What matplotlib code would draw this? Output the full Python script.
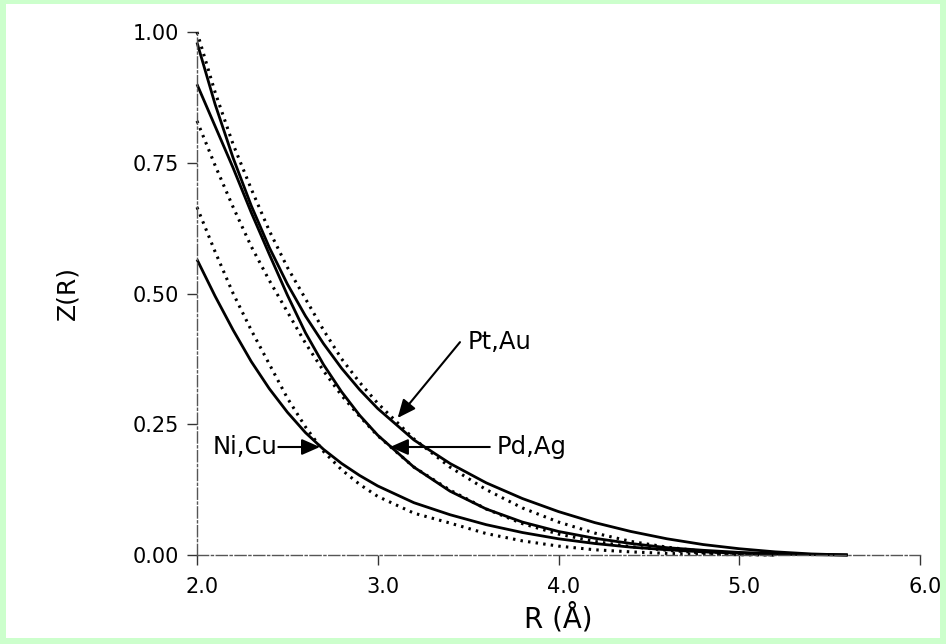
"""
Z(R) の比較プロット
実線と点線の 3 組 (Pt,Au / Pd,Ag / Ni,Cu)
"""
import matplotlib.pyplot as plt
from matplotlib.patches import Rectangle
from matplotlib.transforms import ScaledTranslation
from matplotlib import rcParams

rcParams['font.family'] = ['DejaVu Sans']

# 実線の R グリッド
r_solid = [2.0, 2.1, 2.2, 2.3, 2.4, 2.5, 2.6, 2.7, 2.8, 2.9, 3.0, 3.2, 3.4,
           3.6, 3.8, 4.0, 4.2, 4.4, 4.6, 4.8, 5.0, 5.2, 5.4, 5.6]
# 点線の R グリッド
r_dot = [2.0, 2.1, 2.2, 2.3, 2.4, 2.5, 2.6, 2.7, 2.8, 2.9, 3.0, 3.2, 3.4,
         3.6, 3.8, 4.0, 4.2, 4.4, 4.6, 4.8, 5.0, 5.2]

ptau_solid = [0.98, 0.862, 0.759, 0.668, 0.588, 0.518, 0.457, 0.404, 0.357,
              0.316, 0.28, 0.22, 0.175, 0.138, 0.108, 0.083, 0.062, 0.045,
              0.031, 0.020, 0.012, 0.006, 0.002, 0.0]
pdag_solid = [0.90, 0.82, 0.74, 0.655, 0.575, 0.497, 0.425, 0.364, 0.312,
              0.267, 0.229, 0.168, 0.122, 0.088, 0.063, 0.045, 0.032, 0.022,
              0.014, 0.009, 0.005, 0.0025, 0.001, 0.0]
nicu_solid = [0.565, 0.495, 0.43, 0.37, 0.318, 0.273, 0.234, 0.202, 0.175,
              0.152, 0.132, 0.10, 0.077, 0.058, 0.043, 0.031, 0.022, 0.015,
              0.010, 0.006, 0.0035, 0.0018, 0.0006, 0.0]

ptau_dot = [1.0, 0.885, 0.785, 0.70, 0.62, 0.55, 0.49, 0.43, 0.375, 0.33,
            0.29, 0.222, 0.168, 0.125, 0.090, 0.063, 0.042, 0.026, 0.015,
            0.007, 0.003, 0.0]
pdag_dot = [0.83, 0.745, 0.665, 0.59, 0.525, 0.465, 0.405, 0.352, 0.305,
            0.265, 0.228, 0.168, 0.124, 0.088, 0.060, 0.040, 0.026, 0.016,
            0.009, 0.004, 0.0015, 0.0]
nicu_dot = [0.665, 0.58, 0.50, 0.43, 0.365, 0.30, 0.245, 0.198, 0.163, 0.135,
            0.112, 0.080, 0.061, 0.041, 0.027, 0.017, 0.010, 0.006, 0.003,
            0.0015, 0.0005, 0.0]

x_ticks = [2.0, 3.0, 4.0, 5.0, 6.0]
x_ticklabels = ['2.0', '3.0', '4.0', '5.0', '6.0']
y_ticks = [0.0, 0.25, 0.5, 0.75, 1.0]
y_ticklabels = ['0.00', '0.25', '0.50', '0.75', '1.00']

# 注記: (ラベル, 矢印先端, 矢印の根元, 文字の揃え)
notes = [
    ('Pt,Au', (3.11, 0.262), (3.455, 0.407), 'left'),
    ('Pd,Ag', (3.068, 0.2065), (3.62, 0.2065), 'left'),
    ('Ni,Cu', (2.68, 0.2065), (2.45, 0.2065), 'right'),
]

fig = plt.figure(figsize=(9.46, 6.44), dpi=100, facecolor='#ccffcc')
# 緑の枠の内側を白で塗る
fig.patches.append(Rectangle((6 / 946, 6 / 644), 934 / 946, 634 / 644,
                             transform=fig.transFigure, facecolor='white',
                             edgecolor='none', zorder=-10))
ax = fig.add_axes([197 / 946, 1 - 555 / 644, 723 / 946, 523 / 644])
ax.set_facecolor('none')

dot_style = (0, (0.8, 1.7))
for ys in (ptau_solid, pdag_solid, nicu_solid):
    ax.plot(r_solid, ys, color='black', linewidth=2.0, clip_on=False,
            solid_capstyle='butt', solid_joinstyle='round')
for ys in (ptau_dot, pdag_dot, nicu_dot):
    ax.plot(r_dot, ys, color='black', linewidth=2.2, linestyle=dot_style,
            clip_on=False)

for label, tip, pos, ha in notes:
    ax.annotate('', xy=tip, xytext=pos,
                arrowprops=dict(arrowstyle='-|>,head_length=0.5,head_width=0.22',
                                color='black', lw=1.5,
                                mutation_scale=22, shrinkA=0, shrinkB=0))
    ax.text(pos[0] + (0.04 if ha == 'left' else -0.005), pos[1], label,
            ha=ha, va='center', fontsize=17.5)

ax.set_xlim(2.0, 6.0)
ax.set_ylim(0.0, 1.0)
ax.set_xticks(x_ticks)
ax.set_xticklabels(x_ticklabels, fontsize=15)
ax.set_yticks(y_ticks)
ax.set_yticklabels(y_ticklabels, fontsize=15)
ax.tick_params(axis='both', direction='out', length=7, width=1.0,
               color='#333333')
ax.tick_params(axis='x', pad=9)
ax.tick_params(axis='y', pad=6)

# x 目盛りの数字を少し右へ
shift = ScaledTranslation(5 / 100, 0, fig.dpi_scale_trans)
for lbl in ax.get_xticklabels():
    lbl.set_transform(lbl.get_transform() + shift)

for side in ('top', 'right'):
    ax.spines[side].set_visible(False)
for side in ('left', 'bottom'):
    ax.spines[side].set_linestyle((0, (8, 2, 1.5, 2)))
    ax.spines[side].set_linewidth(1.0)
    ax.spines[side].set_color('#555555')

ax.set_xlabel('R (Å)', fontsize=20, labelpad=4)
ax.set_ylabel('Z(R)', fontsize=18, labelpad=38)

plt.savefig('out.png', dpi=100, facecolor=fig.get_facecolor())
